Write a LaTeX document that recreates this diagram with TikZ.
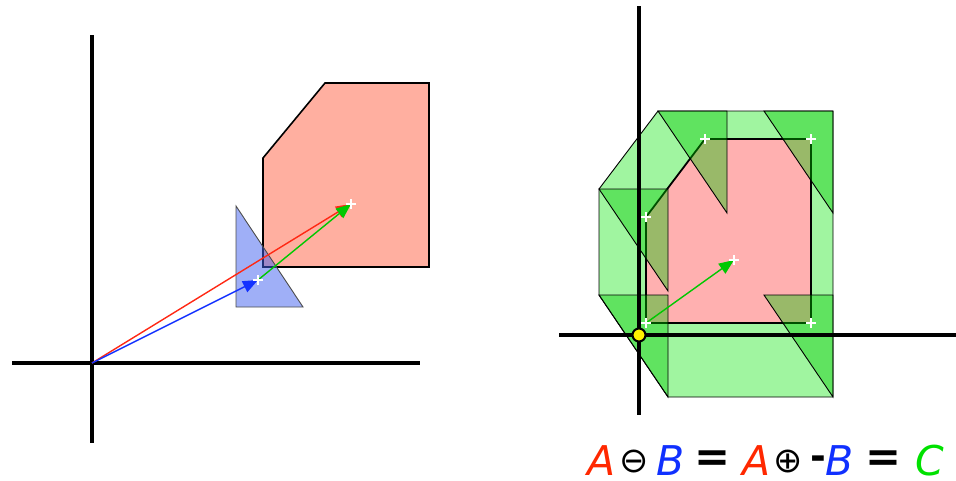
\documentclass[tikz,border=0pt]{standalone}
\usepackage{fontspec}
\setmainfont{DejaVu Sans}
\usetikzlibrary{arrows.meta,calc}
\definecolor{polyA}{RGB}{255,175,160}
\definecolor{triB}{RGB}{64,96,240}
\definecolor{lgreen}{RGB}{160,245,160}
\definecolor{pinkC}{RGB}{255,176,176}
\definecolor{trigreen}{RGB}{0,200,0}
\definecolor{txtred}{RGB}{255,40,0}
\definecolor{txtblue}{RGB}{16,48,255}
\definecolor{txtgreen}{RGB}{0,225,0}
\definecolor{arrred}{RGB}{255,40,20}
\definecolor{arrblue}{RGB}{20,50,255}
\definecolor{arrgreen}{RGB}{0,200,0}
\begin{document}
\begin{tikzpicture}[x=1pt,y=-1pt,
  axis/.style={line width=3.3pt},
  vec/.style={line width=1.4pt,-{Triangle[length=15pt,width=12pt]}},
  thinedge/.style={draw=black,line width=0.9pt},
  eqtxt/.style={inner xsep=4pt,inner ysep=2pt,font=\fontsize{41}{41}\selectfont},
  eqsign/.style={inner sep=2pt,font=\fontsize{43}{43}\selectfont\bfseries},
  optxt/.style={inner sep=2pt,font=\fontsize{35}{35}\selectfont},
  plusmark/.pic={\draw[white,line width=1.4pt] (-5,0)--(5,0) (0,-5)--(0,5);}
]
\useasboundingbox (0,0) rectangle (956,480);

% ---------------- left panel ----------------
\coordinate (O1) at (92,363);
\coordinate (bpt) at (258,280);
\coordinate (apt) at (351,204);
\draw[axis] (12,363) -- (420,363);
\draw[axis] (92,35) -- (92,443);
\filldraw[fill=polyA,draw=black,line width=1.6pt]
  (263,267) -- (263,158) -- (325,83) -- (429,83) -- (429,267) -- cycle;
\filldraw[fill=triB,fill opacity=0.5,draw=black!70,line width=0.9pt]
  (236,206) -- (236,307) -- (303,307) -- cycle;
\draw[vec,arrred] (O1) -- (apt);
\draw[vec,arrblue] (O1) -- (bpt);
\draw[vec,arrgreen] (bpt) -- (apt);
\pic at (bpt) {plusmark};
\pic at (apt) {plusmark};

% ---------------- right panel ----------------
\coordinate (O2) at (639,335);
\coordinate (p1) at (646,323);
\coordinate (p2) at (646,217);
\coordinate (p3) at (705,139);
\coordinate (p4) at (811,139);
\coordinate (p5) at (811,323);
\coordinate (cpt) at (734,260);
% hull
\filldraw[fill=lgreen,thinedge]
  ($(p2)+(-47,-28)$) -- ($(p3)+(-47,-28)$) -- ($(p4)+(22,-28)$) --
  ($(p5)+(22,74)$) -- ($(p1)+(22,74)$) -- ($(p1)+(-47,-28)$) -- cycle;
% pink shape
\filldraw[fill=pinkC,draw=black,line width=1.8pt]
  (p1) -- (p2) -- (p3) -- (p4) -- (p5) -- cycle;
% translated -B triangles
\foreach \p in {p1,p2,p3,p4,p5}{
  \filldraw[fill=trigreen,fill opacity=0.4,thinedge]
    ($(\p)+(22,74)$) -- ($(\p)+(22,-28)$) -- ($(\p)+(-47,-28)$) -- cycle;
}
\draw[axis] (559,335) -- (956,335);
\draw[axis] (639,6) -- (639,415);
\draw[vec,arrgreen] (p1) -- (cpt);
\foreach \p in {p1,p2,p3,p4,p5,cpt}{ \pic at (\p) {plusmark}; }
\filldraw[fill=yellow,draw=black,line width=2pt] (O2) circle (6.5);

% ---------------- equation ----------------
\node[eqtxt,text=txtred,anchor=base west] (tA1) at (583,475) {\itshape A};
\node[optxt,anchor=center] (tom) at (634,461) {⊖};
\node[eqtxt,text=txtblue,anchor=base west] (tB1) at (652,475) {\itshape B};
\node[eqsign,anchor=center] (teq1) at (712.5,461) {=};
\node[eqtxt,text=txtred,anchor=base west] (tA2) at (738,475) {\itshape A};
\node[optxt,anchor=center] (top) at (788,461) {⊕};
\node[inner sep=2pt,font=\fontsize{38}{38}\selectfont\bfseries,anchor=center] (tmin) at (818,462.5) {-};
\node[eqtxt,text=txtblue,anchor=base west] (tB2) at (821,475) {\itshape B};
\node[eqsign,anchor=center] (teq2) at (883.5,461) {=};
\node[eqtxt,text=txtgreen,anchor=base west] (tC) at (911,475) {\itshape C};
\end{tikzpicture}
\end{document}
